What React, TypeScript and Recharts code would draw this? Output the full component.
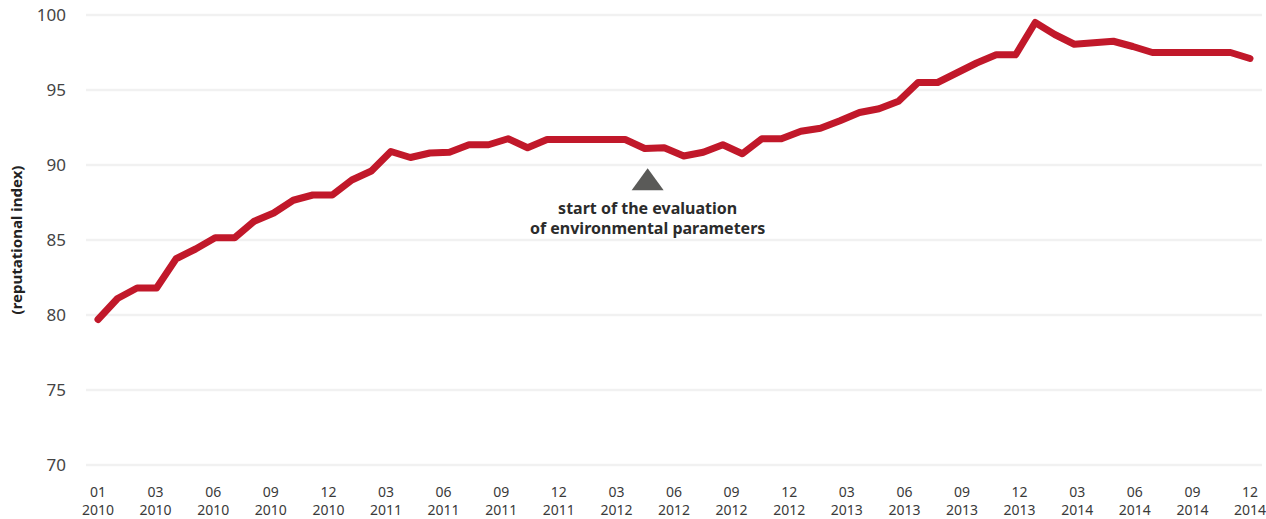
import {
  LineChart,
  Line,
  XAxis,
  YAxis,
  CartesianGrid,
  ReferenceDot,
} from "recharts";

// monthly reputational index, 01/2010 .. 12/2014
const indexValues = [
  79.7, 81.1, 81.8, 81.8, 83.75, 84.4, 85.15, 85.15, 86.25, 86.8, 87.65, 88.0,
  88.0, 89.0, 89.6, 90.9, 90.5, 90.8, 90.85, 91.35, 91.35, 91.75, 91.15, 91.7,
  91.7, 91.7, 91.7, 91.7, 91.1, 91.15, 90.6, 90.85, 91.35, 90.75, 91.75, 91.75,
  92.25, 92.45, 92.95, 93.5, 93.75, 94.25, 95.5, 95.5, 96.15, 96.8, 97.35, 97.35,
  99.5, 98.7, 98.05, 98.15, 98.25, 97.9, 97.5, 97.5, 97.5, 97.5, 97.5, 97.1,
];

const tickMonths = [
  "01", "03", "06", "09", "12", "03", "06", "09", "12", "03", "06",
  "09", "12", "03", "06", "09", "12", "03", "06", "09", "12",
];
const tickYears = [
  "2010", "2010", "2010", "2010", "2010", "2011", "2011", "2011", "2011",
  "2012", "2012", "2012", "2012", "2013", "2013", "2013", "2013",
  "2014", "2014", "2014", "2014",
];

const yTicks = [70, 75, 80, 85, 90, 95, 100];

const markerPos = 28.15;
const markerValue = 89.05;
const markerText = ["start of the evaluation", "of environmental parameters"];

const FONT = "'Noto Sans', sans-serif";
const RED = "#c1182a";

const data = indexValues.map((v, i) => ({ i, v }));
const lastIdx = indexValues.length - 1;
const xTicks = tickMonths.map((_, k) => (k * lastIdx) / (tickMonths.length - 1));

function XTick(props: any) {
  const { x, y, index } = props;
  return (
    <text x={x} y={y} textAnchor="middle" fill="#3a3a3a" fontSize={14} fontFamily={FONT}>
      <tspan x={x} dy={32}>{tickMonths[index]}</tspan>
      <tspan x={x} dy={18}>{tickYears[index]}</tspan>
    </text>
  );
}

function Marker(props: any) {
  const { cx, cy } = props;
  return (
    <g>
      <polygon
        points={`${cx},${cy - 11} ${cx - 16},${cy + 11} ${cx + 16},${cy + 11}`}
        fill="#5a5a58"
      />
      <text
        x={cx}
        y={cy}
        textAnchor="middle"
        fontFamily={FONT}
        fontWeight="bold"
        fontSize={16}
        fill="#2b2b2b"
      >
        <tspan x={cx} dy={35}>{markerText[0]}</tspan>
        <tspan x={cx} dy={20}>{markerText[1]}</tspan>
      </text>
    </g>
  );
}

export default function App() {
  return (
    <div style={{ position: "absolute", left: 0, top: 0, width: 1266, height: 519, background: "#fff" }}>
      <LineChart
        width={1266}
        height={519}
        data={data}
        margin={{ top: 15, right: 4, bottom: 0, left: 0 }}
      >
        <CartesianGrid vertical={false} stroke="#f1f1f1" strokeWidth={2.5} />
        <XAxis
          dataKey="i"
          type="number"
          domain={[0, lastIdx]}
          ticks={xTicks}
          interval={0}
          padding={{ left: 12, right: 12 }}
          axisLine={false}
          tickLine={false}
          tickSize={0}
          tickMargin={0}
          height={54}
          tick={<XTick />}
        />
        <YAxis
          domain={[70, 100]}
          ticks={yTicks}
          width={86}
          axisLine={false}
          tickLine={false}
          tickSize={0}
          tickMargin={20}
          tick={{ fontSize: 17, fill: "#444", fontFamily: FONT }}
          label={{
            value: "(reputational index)",
            angle: -90,
            position: "insideLeft",
            offset: 17,
            style: { textAnchor: "middle", fontFamily: FONT, fontWeight: "bold", fontSize: 15, fill: "#222" },
          }}
        />
        <ReferenceDot x={markerPos} y={markerValue} shape={<Marker />} ifOverflow="visible" />
        <Line
          type="linear"
          dataKey="v"
          stroke={RED}
          strokeWidth={7}
          strokeLinecap="round"
          strokeLinejoin="round"
          dot={false}
          activeDot={false}
          isAnimationActive={false}
        />
      </LineChart>
    </div>
  );
}
